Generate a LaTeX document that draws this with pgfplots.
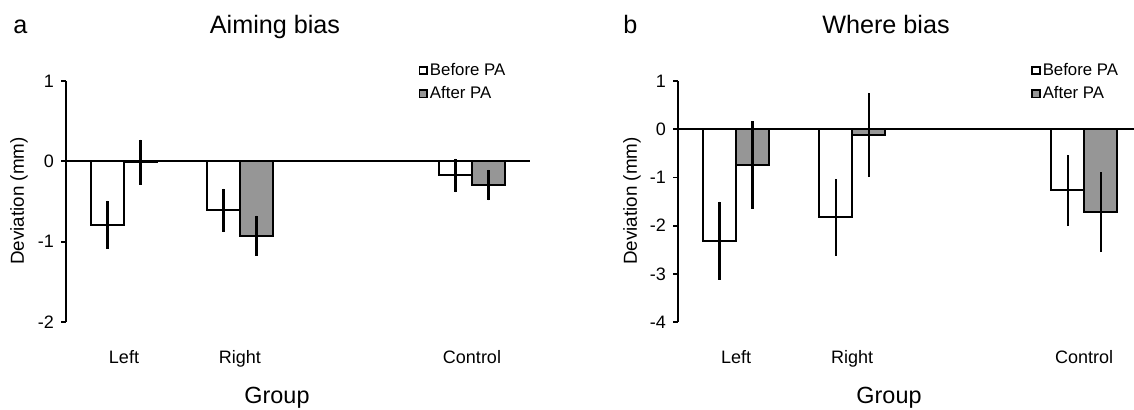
\documentclass[border=0pt]{standalone}
\usepackage{pgfplots}
\pgfplotsset{compat=1.18}
\usepackage{fontspec}
\setmainfont{Liberation Sans}
\definecolor{bargray}{RGB}{150,150,150}
\begin{document}
\begin{tikzpicture}
\useasboundingbox (0,0) rectangle (567pt,204.5pt);
\pgfplotsset{
  myaxis/.style={
    scale only axis,
    anchor=south west,
    height=120.5pt,
    xmin=-0.5,
    axis y line*=left,
    axis x line*=bottom,
    x axis line style={draw=none},
    xtick={0,1,3},
    xticklabels={Left,Right,Control},
    xtick style={draw=none},
    xticklabel style={yshift=-8pt},
    ytick style={line width=0.9pt, black},
    tick align=outside,
    major tick length=2.5pt,
    y axis line style={line width=0.9pt},
    ticklabel style={font=\fontsize{9}{10}\selectfont},
    ybar,
    bar width=16.5pt,
    clip=false,
    legend style={draw=none, fill=none, anchor=north west, font=\fontsize{8.4}{10}\selectfont, row sep=2pt, inner sep=0pt, nodes={inner sep=1pt}},
    legend cell align=left,
  },
  bstyle/.style={draw=black, line width=1pt, fill=white, bar shift=-8.25pt,
    error bars/y dir=both, error bars/y explicit, error bars/error mark=none,
    error bars/error bar style={line width=1.05pt, black},
    legend image code/.code={\draw[draw=black, line width=0.9pt, fill=white] (0pt,-1.9pt) rectangle (3.8pt,1.9pt);}},
  astyle/.style={draw=black, line width=1pt, fill=bargray, bar shift=8.25pt,
    error bars/y dir=both, error bars/y explicit, error bars/error mark=none,
    error bars/error bar style={line width=1.05pt, black},
    legend image code/.code={\draw[draw=black, line width=0.9pt, fill=bargray] (0pt,-1.9pt) rectangle (3.8pt,1.9pt);}},
}
% Panel a
\begin{axis}[myaxis, at={(33pt,43.5pt)}, width=232pt, xmax=3.5,
  ymin=-2, ymax=1, ytick={-2,-1,0,1}, yticklabels={-2,-1,0,1},
  legend style={at={(0.759,1.085)}}]
\addplot[bstyle] coordinates {(0,-0.79) +- (0,0.30) (1,-0.61) +- (0,0.27) (3,-0.175) +- (0,0.21)};
\addlegendentry{Before PA}
\addplot[astyle] coordinates {(0,-0.01) +- (0,0.28) (1,-0.925) +- (0,0.25) (3,-0.295) +- (0,0.19)};
\addlegendentry{After PA}
\draw[line width=1pt] (axis cs:-0.5,0) -- (axis cs:3.5,0);
\end{axis}
% Panel b
\begin{axis}[myaxis, at={(339pt,43.5pt)}, width=228pt, xmax=3.43,
  ymin=-4, ymax=1, ytick={-4,-3,-2,-1,0,1}, yticklabels={-4,-3,-2,-1,0,1},
  legend style={at={(0.774,1.085)}}]
\addplot[bstyle] coordinates {(0,-2.31) +- (0,0.81) (1,-1.83) +- (0,0.80) (3,-1.27) +- (0,0.74)};
\addlegendentry{Before PA}
\addplot[astyle] coordinates {(0,-0.74) +- (0,0.91) (1,-0.12) +- (0,0.875) (3,-1.72) +- (0,0.83)};
\addlegendentry{After PA}
\draw[line width=1pt] (axis cs:-0.5,0) -- (axis cs:3.43,0);
\end{axis}
% Texts
\node[anchor=base west, inner sep=0pt] at (6.5pt,188pt) {\fontsize{12.6}{14}\selectfont a};
\node[anchor=base, inner sep=0pt] at (137.5pt,188pt) {\fontsize{12.6}{14}\selectfont Aiming bias};
\node[anchor=base west, inner sep=0pt] at (311.5pt,188pt) {\fontsize{12.6}{14}\selectfont b};
\node[anchor=base, inner sep=0pt] at (443pt,188pt) {\fontsize{12.6}{14}\selectfont Where bias};
\node[anchor=base, inner sep=0pt] at (138.5pt,3pt) {\fontsize{11.7}{13}\selectfont Group};
\node[anchor=base, inner sep=0pt] at (444.5pt,3pt) {\fontsize{11.7}{13}\selectfont Group};
\node[rotate=90, inner sep=0pt] at (9.5pt,104pt) {\fontsize{9.4}{11}\selectfont Deviation (mm)};
\node[rotate=90, inner sep=0pt] at (316pt,104pt) {\fontsize{9.4}{11}\selectfont Deviation (mm)};
\end{tikzpicture}
\end{document}
